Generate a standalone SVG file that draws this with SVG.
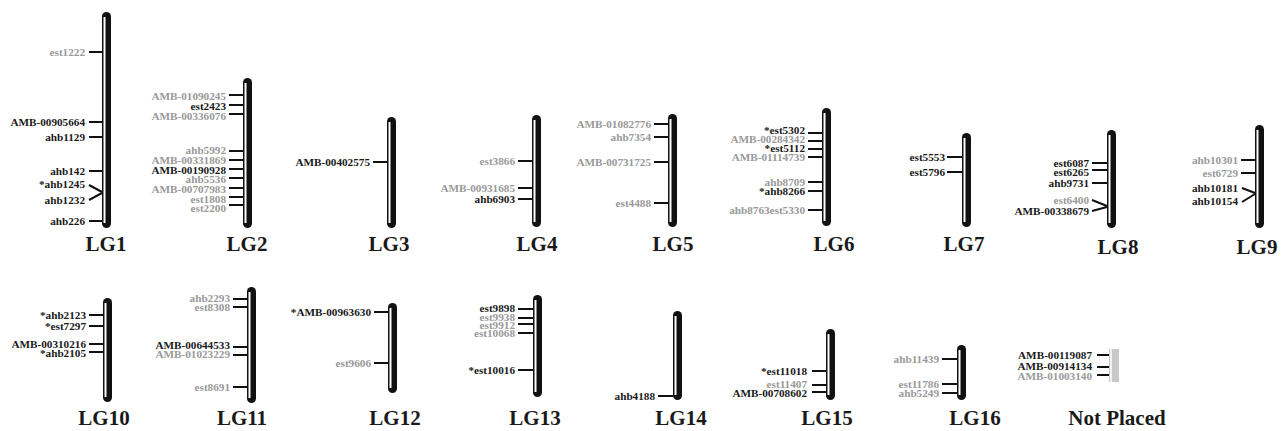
<svg xmlns="http://www.w3.org/2000/svg" width="1282" height="431" viewBox="0 0 1282 431">
<style>
.bar{fill:#111}
.bi{stroke:#fff;stroke-width:2}
.np{fill:#c8c8c8}
.t{stroke:#111;stroke-width:2;fill:none}
text{font-family:"Liberation Serif","Times New Roman",serif;font-weight:bold}
.b{fill:#1a1a1a;font-size:11.2px;text-anchor:end}
.g{fill:#999;font-size:11.2px;text-anchor:end}
.lg{fill:#1a1a1a;font-size:21px;text-anchor:middle}
</style>
<rect width="1282" height="431" fill="#fff"/>

<g id="LG1">
<rect class="bar" x="102" y="12" width="9" height="216" rx="4.5"/><line class="bi" x1="104.5" y1="17" x2="104.5" y2="223"/>
<text class="g" x="85" y="56">est1222</text>
<text class="b" x="85" y="126">AMB-00905664</text>
<text class="b" x="85" y="141">ahb1129</text>
<text class="b" x="85" y="175">ahb142</text>
<text class="b" x="85" y="188">*ahb1245</text>
<text class="b" x="85" y="204">ahb1232</text>
<text class="b" x="85" y="225">ahb226</text>
<text class="lg" x="106" y="251">LG1</text>
</g>

<g id="LG2">
<rect class="bar" x="243" y="78" width="9" height="150" rx="4.5"/><line class="bi" x1="245.5" y1="83" x2="245.5" y2="223"/>
<text class="g" x="226" y="100">AMB-01090245</text>
<text class="b" x="226" y="110">est2423</text>
<text class="g" x="226" y="120">AMB-00336076</text>
<text class="g" x="226" y="154">ahb5992</text>
<text class="g" x="226" y="164">AMB-00331869</text>
<text class="b" x="226" y="174">AMB-00190928</text>
<text class="g" x="226" y="183">ahb5536</text>
<text class="g" x="226" y="193">AMB-00707983</text>
<text class="g" x="226" y="203">est1808</text>
<text class="g" x="226" y="212">est2200</text>
<text class="lg" x="247" y="251">LG2</text>
</g>

<g id="LG3">
<rect class="bar" x="387" y="117" width="9" height="111" rx="4.5"/><line class="bi" x1="389.5" y1="122" x2="389.5" y2="223"/>
<text class="b" x="370" y="166">AMB-00402575</text>
<text class="lg" x="389" y="251">LG3</text>
</g>

<g id="LG4">
<rect class="bar" x="532" y="115" width="9" height="112" rx="4.5"/><line class="bi" x1="534.5" y1="120" x2="534.5" y2="222"/>
<text class="g" x="515" y="165">est3866</text>
<text class="g" x="515" y="192">AMB-00931685</text>
<text class="b" x="515" y="203">ahb6903</text>
<text class="lg" x="537" y="251">LG4</text>
</g>

<g id="LG5">
<rect class="bar" x="668" y="114" width="9" height="113" rx="4.5"/><line class="bi" x1="670.5" y1="119" x2="670.5" y2="222"/>
<text class="g" x="651" y="128">AMB-01082776</text>
<text class="g" x="651" y="141">ahb7354</text>
<text class="g" x="651" y="166">AMB-00731725</text>
<text class="g" x="651" y="207">est4488</text>
<text class="lg" x="673" y="251">LG5</text>
</g>

<g id="LG6">
<rect class="bar" x="822" y="108" width="9" height="118" rx="4.5"/><line class="bi" x1="824.5" y1="113" x2="824.5" y2="221"/>
<text class="b" x="805" y="134">*est5302</text>
<text class="g" x="805" y="143">AMB-00284342</text>
<text class="b" x="805" y="152">*est5112</text>
<text class="g" x="805" y="161">AMB-01114739</text>
<text class="g" x="805" y="186">ahb8709</text>
<text class="b" x="805" y="195">*ahb8266</text>
<text class="g" x="805" y="214">ahb8763est5330</text>
<text class="lg" x="834" y="251">LG6</text>
</g>

<g id="LG7">
<rect class="bar" x="962" y="133" width="9" height="94" rx="4.5"/><line class="bi" x1="964.5" y1="138" x2="964.5" y2="222"/>
<text class="b" x="945" y="161">est5553</text>
<text class="b" x="945" y="176">est5796</text>
<text class="lg" x="964" y="251">LG7</text>
</g>

<g id="LG8">
<rect class="bar" x="1107" y="130" width="9" height="98" rx="4.5"/><line class="bi" x1="1109.5" y1="135" x2="1109.5" y2="223"/>
<text class="b" x="1089" y="167">est6087</text>
<text class="b" x="1089" y="176">est6265</text>
<text class="b" x="1089" y="187">ahb9731</text>
<text class="g" x="1089" y="204">est6400</text>
<text class="b" x="1089" y="215">AMB-00338679</text>
<text class="lg" x="1118" y="254">LG8</text>
</g>

<g id="LG9">
<rect class="bar" x="1255" y="125" width="9" height="103" rx="4.5"/><line class="bi" x1="1257.5" y1="130" x2="1257.5" y2="223"/>
<text class="g" x="1238" y="164">ahb10301</text>
<text class="g" x="1238" y="177">est6729</text>
<text class="b" x="1238" y="192">ahb10181</text>
<text class="b" x="1238" y="205">ahb10154</text>
<text class="lg" x="1257" y="254">LG9</text>
</g>

<g id="LG10">
<rect class="bar" x="103" y="298" width="9" height="104" rx="4.5"/><line class="bi" x1="105.5" y1="303" x2="105.5" y2="397"/>
<text class="b" x="86" y="319">*ahb2123</text>
<text class="b" x="86" y="330">*est7297</text>
<text class="b" x="86" y="348">AMB-00310216</text>
<text class="b" x="86" y="357">*ahb2105</text>
<text class="lg" x="104" y="425">LG10</text>
</g>

<g id="LG11">
<rect class="bar" x="247" y="287" width="9" height="116" rx="4.5"/><line class="bi" x1="249.5" y1="292" x2="249.5" y2="398"/>
<text class="g" x="230" y="302">ahb2293</text>
<text class="g" x="230" y="311">est8308</text>
<text class="b" x="230" y="349">AMB-00644533</text>
<text class="g" x="230" y="358">AMB-01023229</text>
<text class="g" x="230" y="391">est8691</text>
<text class="lg" x="242" y="425">LG11</text>
</g>

<g id="LG12">
<rect class="bar" x="388" y="303" width="9" height="90" rx="4.5"/><line class="bi" x1="390.5" y1="308" x2="390.5" y2="388"/>
<text class="b" x="371" y="316">*AMB-00963630</text>
<text class="g" x="371" y="367">est9606</text>
<text class="lg" x="395" y="425">LG12</text>
</g>

<g id="LG13">
<rect class="bar" x="533" y="295" width="9" height="102" rx="4.5"/><line class="bi" x1="535.5" y1="300" x2="535.5" y2="392"/>
<text class="b" x="515" y="312">est9898</text>
<text class="g" x="515" y="321">est9938</text>
<text class="g" x="515" y="329">est9912</text>
<text class="g" x="515" y="337">est10068</text>
<text class="b" x="515" y="374">*est10016</text>
<text class="lg" x="535" y="425">LG13</text>
</g>

<g id="LG14">
<rect class="bar" x="673" y="311" width="9" height="89" rx="4.5"/><line class="bi" x1="675.5" y1="316" x2="675.5" y2="395"/>
<text class="b" x="655" y="400">ahb4188</text>
<text class="lg" x="681" y="425">LG14</text>
</g>

<g id="LG15">
<rect class="bar" x="826" y="329" width="9" height="71" rx="4.5"/><line class="bi" x1="828.5" y1="334" x2="828.5" y2="395"/>
<text class="b" x="807" y="375">*est11018</text>
<text class="g" x="807" y="388">est11407</text>
<text class="b" x="807" y="397">AMB-00708602</text>
<text class="lg" x="827" y="425">LG15</text>
</g>

<g id="LG16">
<rect class="bar" x="957" y="345" width="9" height="55" rx="4.5"/><line class="bi" x1="959.5" y1="350" x2="959.5" y2="395"/>
<text class="g" x="939" y="363">ahb11439</text>
<text class="g" x="939" y="388">est11786</text>
<text class="g" x="939" y="397">ahb5249</text>
<text class="lg" x="975" y="425">LG16</text>
</g>

<g id="NotPlaced">
<rect class="np" x="1109" y="349" width="10" height="33"/><line stroke="#fff" stroke-width="1.5" x1="1111" y1="349" x2="1111" y2="382"/>
<text class="b" x="1092" y="359">AMB-00119087</text>
<text class="b" x="1092" y="370">AMB-00914134</text>
<text class="g" x="1092" y="380">AMB-01003140</text>
<text class="lg" x="1117" y="425">Not Placed</text>
</g>

<g id="connectors">
<path class="t" d="M89 52H102M89 122H102M89 137H102M89 171H102M89 185L102 192M89 200L102 193M89 221H102"/>
<path class="t" d="M229 95H243M229 105H243M229 114H243M229 151H243M229 160H243M229 169H243M229 178H243M229 188H243M229 197H243M229 205H243"/>
<path class="t" d="M373 162H387"/>
<path class="t" d="M518 161H532M518 188H532M518 199H532"/>
<path class="t" d="M654 124H668M654 137H668M654 162H668M654 203H668"/>
<path class="t" d="M808 133H822M808 141H822M808 149H822M808 157H822M808 182H822M808 191H822M808 210H822"/>
<path class="t" d="M947 157H962M947 172H962"/>
<path class="t" d="M1092 163H1107M1092 170H1107M1092 183H1107M1092 200L1107 206M1092 211L1107 207"/>
<path class="t" d="M1241 160H1255M1241 173H1255M1242 188L1255 193M1242 202L1255 194"/>
<path class="t" d="M89 315H103M89 326H103M89 344H103M89 352H103"/>
<path class="t" d="M233 299H247M233 307H247M233 347H247M233 355H247M233 387H247"/>
<path class="t" d="M374 312H388M374 363H388"/>
<path class="t" d="M518 309H533M518 318H533M518 324H533M518 333H533M518 370H533"/>
<path class="t" d="M658 396H673"/>
<path class="t" d="M812 371H826M812 385H826M812 392H826"/>
<path class="t" d="M942 359H957M942 384H957M942 393H957"/>
<path class="t" d="M1097 355H1109M1097 367H1109M1097 375H1109"/>
</g>
</svg>
